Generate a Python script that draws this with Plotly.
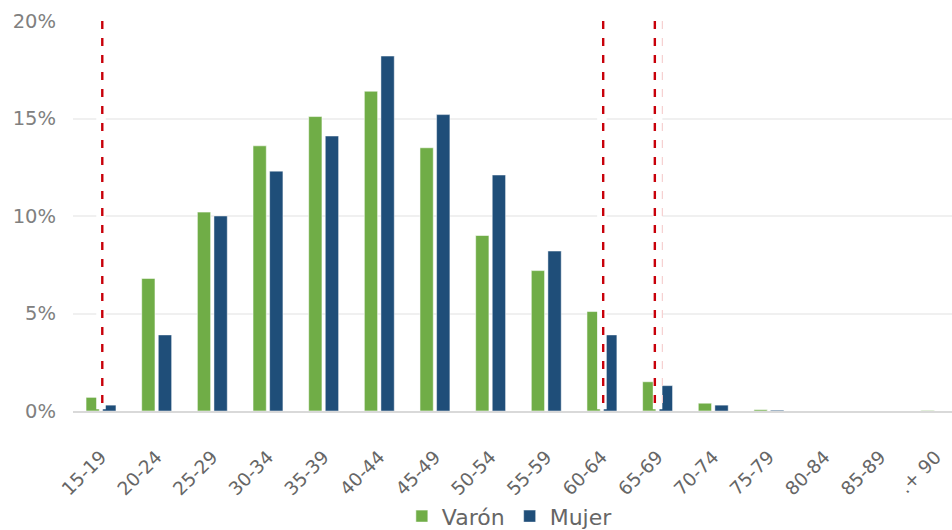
import plotly.graph_objects as go

# Age groups and share of each sex (%) per group
age_groups = ["15-19", "20-24", "25-29", "30-34", "35-39", "40-44", "45-49", "50-54",
              "55-59", "60-64", "65-69", "70-74", "75-79", "80-84", "85-89", ".+ 90"]
varon = [0.7, 6.8, 10.2, 13.6, 15.1, 16.4, 13.5, 9.0, 7.2, 5.1, 1.5, 0.4, 0.07, 0.0, 0.0, 0.03]
mujer = [0.3, 3.9, 10.0, 12.3, 14.1, 18.2, 15.2, 12.1, 8.2, 3.9, 1.3, 0.3, 0.04, 0.0, 0.0, 0.0]

y_ticks = [0, 5, 10, 15, 20]
y_tick_labels = ["0%", "5%", "10%", "15%", "20%"]

# Age limits: white separator bands on the marked groups, dashed markers on top
marked_groups = [0, 9, 10]
limit_positions = [0.023, 9.023, 9.951]
faint_limit_positions = [10.086]

GREEN = "#70AD47"
BLUE = "#1F4E79"
FONT = "'DejaVu Sans', 'Noto Sans', sans-serif"

fig = go.Figure()
fig.add_trace(go.Bar(
    name="Varón", x=age_groups, y=varon,
    marker=dict(color=GREEN, line=dict(color="rgba(255,255,255,0.55)", width=1)),
))
fig.add_trace(go.Bar(
    name="Mujer", x=age_groups, y=mujer,
    marker=dict(color=BLUE, line=dict(color="rgba(255,255,255,0.45)", width=1)),
))

shapes = []
for xp in marked_groups:
    shapes.append(dict(type="line", xref="x", yref="y", x0=xp, x1=xp, y0=0.09, y1=20.3,
                       line=dict(color="white", width=9.5), layer="above"))
for xp in limit_positions:
    shapes.append(dict(type="line", xref="x", yref="y", x0=xp, x1=xp, y0=20, y1=0,
                       line=dict(color="#C8000A", width=2.4, dash="8px,9px"), layer="above"))
for xp in faint_limit_positions:
    shapes.append(dict(type="line", xref="x", yref="y", x0=xp, x1=xp, y0=20, y1=0,
                       line=dict(color="#F6D0D0", width=1.2, dash="8px,9px"), layer="above"))

fig.update_layout(
    width=952, height=530,
    margin=dict(l=73, r=0, t=21, b=119, autoexpand=False),
    paper_bgcolor="white", plot_bgcolor="white",
    barmode="group", bargap=0.403, bargroupgap=0.2,
    font=dict(family=FONT, color="#595959"),
    shapes=shapes,
    showlegend=True,
    legend=dict(orientation="h", x=0.497, xanchor="center", y=-0.27, yanchor="middle",
                font=dict(size=22, color="#666666"), itemwidth=30,
                traceorder="normal"),
    xaxis=dict(
        type="category", range=[-0.503, 15.29], tickangle=-45, automargin=False,
        tickfont=dict(size=18.5, color="#666666"), ticklabelstandoff=26,
        showgrid=False, showline=True, linecolor="#D9D9D9", linewidth=2,
        ticks="", fixedrange=True,
    ),
    yaxis=dict(
        range=[0, 20], tickvals=y_ticks, ticktext=y_tick_labels, automargin=False,
        tickfont=dict(size=19.5, color="#808080"),
        showgrid=True, gridcolor="#F0F0F0", gridwidth=1.5,
        zeroline=False, showline=False, ticks="", ticklabelstandoff=16,
    ),
)

fig.write_html("out.html")
